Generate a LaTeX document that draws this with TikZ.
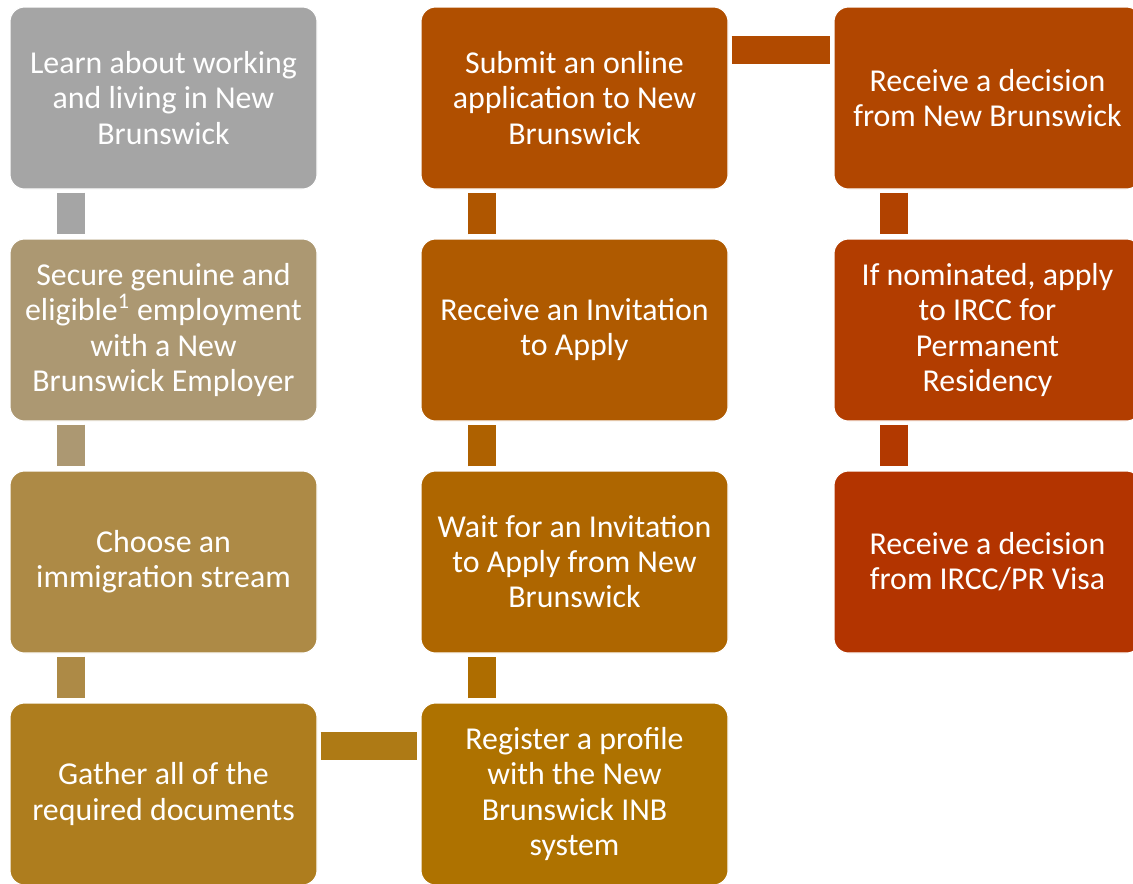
\documentclass[tikz,border=0pt]{standalone}
\usepackage{fontspec}
\setmainfont{Carlito}
\usetikzlibrary{calc}
\definecolor{cA}{HTML}{A5A5A5}
\definecolor{cB}{HTML}{AC9872}
\definecolor{cC}{HTML}{AD8A46}
\definecolor{cD}{HTML}{AE7D1E}
\definecolor{cE}{HTML}{AE7200}
\definecolor{cF}{HTML}{AE6600}
\definecolor{cG}{HTML}{AF5A00}
\definecolor{cH}{HTML}{B04F00}
\definecolor{cI}{HTML}{B14600}
\definecolor{cJ}{HTML}{B23D00}
\definecolor{cK}{HTML}{B33400}
\tikzset{
  stepbox/.style={rectangle, rounded corners=11pt, draw=white, line width=0.8pt,
    minimum width=230.25pt, minimum height=136.5pt, inner sep=0pt,
    align=center, text=white,
    font=\fontsize{23.9}{26.3}\selectfont},
  link/.style={line width=21pt}
}
\begin{document}
\begin{tikzpicture}[x=0.75pt,y=-0.75pt]
\useasboundingbox (0,0) rectangle (1133,883);
\fill[white] (0,0) rectangle (1133,883);
% column 1
\node[stepbox, fill=cA] (a1) at (163.5,98) {Learn about working\\and living in New\\Brunswick};
\node[stepbox, fill=cB] (a2) at (163.5,330) {Secure genuine and\\eligible\textsuperscript{1} employment\\with a New\\Brunswick Employer};
\node[stepbox, fill=cC] (a3) at (163.5,562) {Choose an\\immigration stream};
\node[stepbox, fill=cD] (a4) at (163.5,794) {Gather all of the\\required documents};
% column 2
\node[stepbox, fill=cE] (b4) at (574.5,794) {Register a profile\\with the New\\Brunswick INB\\system};
\node[stepbox, fill=cF] (b3) at (574.5,562) {Wait for an Invitation\\to Apply from New\\Brunswick};
\node[stepbox, fill=cG] (b2) at (574.5,330) {Receive an Invitation\\to Apply};
\node[stepbox, fill=cH] (b1) at (574.5,98) {Submit an online\\application to New\\Brunswick};
% column 3
\node[stepbox, fill=cI] (c1) at (987.5,98) {Receive a decision\\from New Brunswick};
\node[stepbox, fill=cJ] (c2) at (987.5,330) {If nominated, apply\\to IRCC for\\Permanent\\Residency};
\node[stepbox, fill=cK] (c3) at (987.5,562) {Receive a decision\\from IRCC/PR Visa};
% connectors
\draw[link, cA] ($(a1.south west)+(62,3)$) -- ($(a2.north west)+(62,-4)$);
\draw[link, cB] ($(a2.south west)+(62,3)$) -- ($(a3.north west)+(62,-4)$);
\draw[link, cC] ($(a3.south west)+(62,3)$) -- ($(a4.north west)+(62,-4)$);
\draw[link, cD!70!cE] ($(a4.north east)+(3,44)$) -- ($(b4.north west)+(-3,44)$);
\draw[link, cE!60!cF] ($(b4.north west)+(62,-4)$) -- ($(b3.south west)+(62,3)$);
\draw[link, cF!60!cG] ($(b3.north west)+(62,-4)$) -- ($(b2.south west)+(62,3)$);
\draw[link, cG!60!cH] ($(b2.north west)+(62,-4)$) -- ($(b1.south west)+(62,3)$);
\draw[link, cH!40!cI] ($(b1.north east)+(3,44)$) -- ($(c1.north west)+(-3,44)$);
\draw[link, cI!50!cJ] ($(c1.south west)+(61,3)$) -- ($(c2.north west)+(61,-4)$);
\draw[link, cJ!50!cK] ($(c2.south west)+(61,3)$) -- ($(c3.north west)+(61,-4)$);
\end{tikzpicture}
\end{document}
